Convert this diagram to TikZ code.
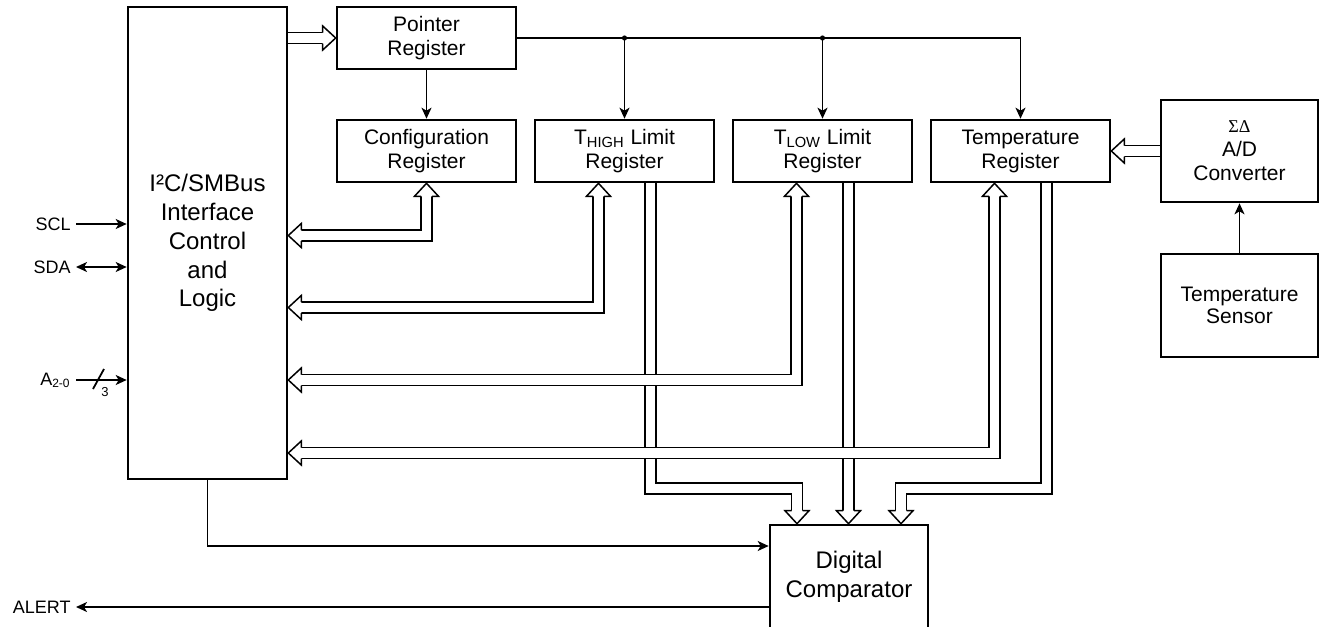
\documentclass[tikz,border=0pt]{standalone}
\usepackage{fontspec}
\setmainfont{Liberation Sans}
\newfontfamily\greekfont{Liberation Serif}
\usetikzlibrary{arrows.meta, positioning, calc}

% open head of a data bus, tip at the origin
\tikzset{
	bushead/.pic={
		\filldraw[fill=white, line width=0.75pt]
		(-6.5pt,2.75pt) -- (-6.5pt,6pt) -- (0,0) -- (-6.5pt,-6pt) -- (-6.5pt,-2.75pt);
	}
}

\begin{document}
\begin{tikzpicture}[x=0.5pt, y=-0.5pt, >={Stealth[length=5.5pt, width=5pt, inset=1.5pt]},
		block/.style={rectangle, draw, line width=1.3pt, inner sep=0pt, align=center, font=\fontsize{10.5}{12}\selectfont},
		reg/.style={block, minimum width=89.5pt, minimum height=31pt},
		big/.style={block, font=\fontsize{12}{14.4}\selectfont},
		sig/.style={draw, line width=0.9pt},
		bus/.style={draw, line width=0.75pt, double=white, double distance=4.75pt},
		lbl/.style={inner sep=2.5pt, font=\fontsize{9}{10}\selectfont}]
	
	\useasboundingbox (0,0) rectangle (1324,627);
	
	\node [big, minimum width=79.5pt, minimum height=236pt] (i2c) at (207.5,243) {I²C/SMBus\\Interface\\Control\\and\\Logic};
	\node [reg, right=23.7pt of i2c.north east, anchor=north west] (ptr) {Pointer\\Register};
	\node [reg, below=24.2pt of ptr] (cfg) {Configuration\\Register};
	\node [reg, right=8.2pt of cfg] (thigh) {T\textsubscript{HIGH} Limit\\Register};
	\node [reg, right=8.2pt of thigh] (tlow) {T\textsubscript{LOW} Limit\\Register};
	\node [reg, right=8.2pt of tlow] (temp) {Temperature\\Register};
	\node [block, minimum width=78.5pt, minimum height=51pt, right=24.2pt of temp] (adc) {{\greekfont\fontsize{9}{12}\selectfont ΣΔ}\\A/D\\Converter};
	\node [block, minimum width=78.5pt, minimum height=51.5pt, below=24.7pt of adc, font=\fontsize{10.5}{11}\selectfont] (sensor) {Temperature\\Sensor};
	\node [big, minimum width=79pt, minimum height=52pt] (cmp) at (849,577) {Digital\\Comparator};
	
	\node [lbl, anchor=east] (scl) at (76,224) {SCL};
	\node [lbl, anchor=east] (sda) at (76,267) {SDA};
	\node [lbl, anchor=east] (a20) at (76,380) {A\textsubscript{2-0}};
	\node [lbl, anchor=east] (alert) at (76,607) {ALERT};
	
	% bus taps
	\coordinate (hiA) at ([xshift=-13pt]thigh.south);
	\coordinate (hiB) at ([xshift=13pt]thigh.south);
	\coordinate (loA) at ([xshift=-13pt]tlow.south);
	\coordinate (loB) at ([xshift=13pt]tlow.south);
	\coordinate (tmA) at ([xshift=-13pt]temp.south);
	\coordinate (tmB) at ([xshift=13pt]temp.south);
	\coordinate (cin1) at ([xshift=-26pt]cmp.north);
	\coordinate (cin3) at ([xshift=26pt]cmp.north);
	\coordinate (ctl) at ([yshift=15.5pt]cmp.west);
	\coordinate (alr) at ([yshift=-15pt]cmp.west);
	\coordinate (cfglvl) at (0,235.5);
	\coordinate (hilvl) at (0,307.5);
	\coordinate (lolvl) at (0,380);
	\coordinate (tmlvl) at (0,453);
	\coordinate (cmplvl) at (0,488.5);
	
	% Pointer
	\draw [bus, shorten >=6.5pt] (i2c.east |- ptr.west) -- (ptr.west);
	\pic at (ptr.west) {bushead};
	\path [sig, ->] (ptr) -- (cfg);
	\path [sig, ->] (ptr.east) -| (temp.north);
	\path [sig, ->] (ptr.east -| thigh.north) -- (thigh.north);
	\path [sig, ->] (ptr.east -| tlow.north) -- (tlow.north);
	\fill (ptr.east -| thigh.north) circle (1.3pt);
	\fill (ptr.east -| tlow.north) circle (1.3pt);
	
	% A/D
	\draw [bus, shorten >=6.5pt] (adc.west) -- (temp.east);
	\pic [rotate=180] at (temp.east) {bushead};
	\path [sig, ->] (sensor) -- (adc);
	
	% to the comparator
	\draw [bus, shorten >=6.5pt] (hiB) |- (cmplvl -| cin1) -- (cin1);
	\draw [bus, shorten >=6.5pt] (loB) -- (loB |- cmp.north);
	\draw [bus, shorten >=6.5pt] (tmB) |- (cmplvl -| cin3) -- (cin3);
	\pic [rotate=-90] at (cin1) {bushead};
	\pic [rotate=-90] at (loB |- cmp.north) {bushead};
	\pic [rotate=-90] at (cin3) {bushead};
	
	% back to the interface
	\draw [bus, shorten <=6.5pt, shorten >=6.5pt] (cfg.south) |- (i2c.east |- cfglvl);
	\draw [bus, shorten <=6.5pt, shorten >=6.5pt] (hiA) |- (i2c.east |- hilvl);
	\draw [bus, shorten <=6.5pt, shorten >=6.5pt] (loA) |- (i2c.east |- lolvl);
	\draw [bus, shorten <=6.5pt, shorten >=6.5pt] (tmA) |- (i2c.east |- tmlvl);
	\pic [rotate=90] at (cfg.south) {bushead};
	\pic [rotate=90] at (hiA) {bushead};
	\pic [rotate=90] at (loA) {bushead};
	\pic [rotate=90] at (tmA) {bushead};
	\pic [rotate=180] at (i2c.east |- cfglvl) {bushead};
	\pic [rotate=180] at (i2c.east |- hilvl) {bushead};
	\pic [rotate=180] at (i2c.east |- lolvl) {bushead};
	\pic [rotate=180] at (i2c.east |- tmlvl) {bushead};
	
	% pins
	\path [sig, ->] (scl) -- (scl -| i2c.west);
	\path [sig, <->] (sda) -- (sda -| i2c.west);
	\path [sig, ->] (a20) -- (a20 -| i2c.west);
	\draw [sig] ([shift={(8.5pt,-4.5pt)}]a20.east) -- ++(5.5pt,10pt);
	\node [inner sep=0pt, font=\fontsize{6.5}{7}\selectfont] (nbits) at ([shift={(14.5pt,-6pt)}]a20.east) {3};
	\path [sig, ->] (i2c.south) |- (ctl);
	\path [sig, ->] (alr) -- (alert);
	
\end{tikzpicture}
\end{document}
